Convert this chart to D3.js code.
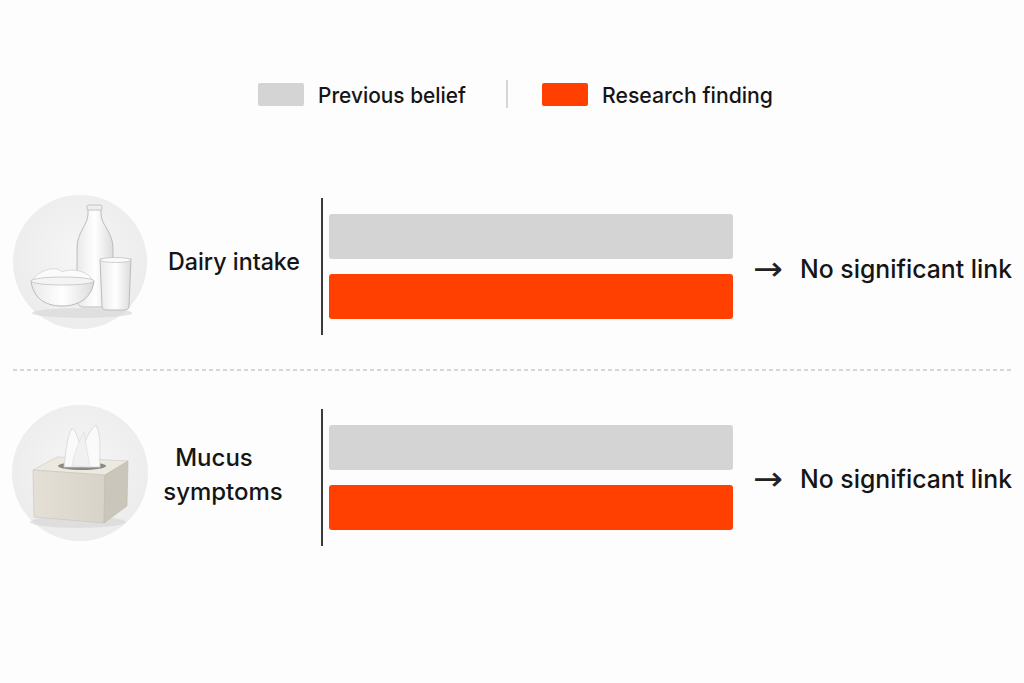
<!DOCTYPE html>
<html><head><meta charset="utf-8">
<script src="https://cdn.jsdelivr.net/npm/d3@7"></script>
<style>body{margin:0;background:#fdfdfd;} svg{display:block;font-family:Inter,"Liberation Sans",Arial,sans-serif;}</style>
</head><body>
<svg id="c" width="1024" height="683"></svg>
<script>
const categories = ["Dairy intake", "Mucus symptoms"];
const series = ["Previous belief", "Research finding"];
const previousBelief = [100, 100];
const researchFinding = [100, 100];
const outcomes = ["No significant link", "No significant link"];
const colors = {"Previous belief": "#d4d4d4", "Research finding": "#ff4000"};

const svg = d3.select("#c");
svg.append("rect").attr("width",1024).attr("height",683).attr("fill","#fdfdfd");

const x = d3.scaleLinear().domain([0, 100]).range([329, 733]);
const yGroup = d3.scaleBand().domain(categories).range([198, 546]).paddingInner(0.35).paddingOuter(0);
const ySeries = d3.scaleBand().domain(series).paddingInner(0.25).paddingOuter(0.267);

// legend
const leg = svg.append("g");
const legPos = [{s:"Previous belief", x:258, w:148}, {s:"Research finding", x:542, w:171}];
legPos.forEach(d=>{
  leg.append("rect").attr("x",d.x).attr("y",83).attr("width",46).attr("height",23).attr("rx",2).attr("fill",colors[d.s]);
  leg.append("text").attr("x",d.x+60).attr("y",102.5).attr("font-size",22).attr("font-weight",500).attr("fill","#151515")
    .attr("textLength",d.w).attr("lengthAdjust","spacingAndGlyphs").text(d.s);
});
leg.append("line").attr("x1",507).attr("x2",507).attr("y1",80).attr("y2",108).attr("stroke","#c8c8c8").attr("stroke-width",1.5);

// separator
svg.append("line").attr("x1",13).attr("x2",1012).attr("y1",370).attr("y2",370)
  .attr("stroke","#c9c9c9").attr("stroke-width",1.5).attr("stroke-dasharray","4,3");

const rows = categories.map((c,i)=>({cat:c, vals:[previousBelief[i], researchFinding[i]], out:outcomes[i]}));

rows.forEach((r,i)=>{
  const g = svg.append("g");
  const y0 = yGroup(r.cat), bh = yGroup.bandwidth();
  ySeries.range([y0, y0+bh]);
  const axis = d3.axisLeft(ySeries).tickSize(0).tickFormat("");
  const ax = g.append("g").attr("transform","translate(322,0)").call(axis);
  ax.select(".domain").attr("stroke","#3a3a3a").attr("stroke-width",2).attr("d",`M0,${y0}V${y0+bh}`);
  g.selectAll("rect.bar").data(series.map((s,j)=>({s, v:r.vals[j]}))).join("rect")
    .attr("class","bar")
    .attr("x", x(0)).attr("y", d=>ySeries(d.s))
    .attr("width", d=>x(d.v)-x(0)).attr("height", ySeries.bandwidth())
    .attr("rx",3).attr("fill", d=>colors[d.s]);
  const cy = y0 + bh/2 + 2;
  g.append("text").attr("x",753).attr("y",cy+11).attr("font-size",33).attr("font-family","'DejaVu Sans'").attr("fill","#222")
    .attr("textLength",30).attr("lengthAdjust","spacingAndGlyphs").text("→");
  g.append("text").attr("x",800).attr("y",cy+9).attr("font-size",25.5).attr("font-weight",500).attr("fill","#151515")
    .attr("textLength",212).attr("lengthAdjust","spacingAndGlyphs").text(r.out);
});

// labels
svg.append("text").attr("x",300).attr("y",270).attr("text-anchor","end").attr("font-size",24).attr("font-weight",500).attr("fill","#151515")
  .attr("textLength",132).attr("lengthAdjust","spacingAndGlyphs").text("Dairy intake");
const ml = svg.append("text").attr("font-size",24).attr("font-weight",500).attr("fill","#151515").attr("text-anchor","middle");
ml.append("tspan").attr("x",214).attr("y",466).text("Mucus");
ml.append("tspan").attr("x",223).attr("y",500).text("symptoms");

// icons
const defs = svg.append("defs");
const rg = defs.append("radialGradient").attr("id","bgc").attr("cx","50%").attr("cy","45%").attr("r","55%");
rg.append("stop").attr("offset","0%").attr("stop-color","#f6f6f6");
rg.append("stop").attr("offset","100%").attr("stop-color","#ececec");
const milk = defs.append("linearGradient").attr("id","milk").attr("x1","0").attr("x2","1");
milk.append("stop").attr("offset","0").attr("stop-color","#e9e9ea");
milk.append("stop").attr("offset","0.5").attr("stop-color","#ffffff");
milk.append("stop").attr("offset","1").attr("stop-color","#dcdcde");
const box = defs.append("linearGradient").attr("id","box").attr("x1","0").attr("x2","1");
box.append("stop").attr("offset","0").attr("stop-color","#e4e0d6");
box.append("stop").attr("offset","1").attr("stop-color","#d8d3c8");

// dairy icon
svg.append("circle").attr("cx",80).attr("cy",262).attr("r",67).attr("fill","url(#bgc)");
const di = svg.append("g");
di.append("ellipse").attr("cx",82).attr("cy",313).attr("rx",50).attr("ry",5).attr("fill","#d8d8d8").attr("opacity",0.7);
di.append("path").attr("d","M88,207 L101,207 L101,214 C101,225 113,232 113,248 L113,300 C113,305 110,307 106,307 L84,307 C80,307 77,305 77,300 L77,248 C77,232 88,225 88,214 Z")
  .attr("fill","url(#milk)").attr("stroke","#bdbdbd").attr("stroke-width",1);
di.append("rect").attr("x",87).attr("y",205).attr("width",15).attr("height",5).attr("rx",1.5).attr("fill","#eeeeee").attr("stroke","#b8b8b8").attr("stroke-width",0.8);
di.append("path").attr("d","M100,259 L131,259 L129,306 C129,309 127,310 124,310 L107,310 C104,310 102,309 102,306 Z")
  .attr("fill","url(#milk)").attr("stroke","#bcbcbc").attr("stroke-width",1);
di.append("ellipse").attr("cx",115.5).attr("cy",260).attr("rx",15.5).attr("ry",2.5).attr("fill","#fafafa").attr("stroke","#c4c4c4").attr("stroke-width",0.8);
di.append("path").attr("d","M32,281 C40,268 58,266 62,272 C70,268 88,270 93,281 Z").attr("fill","#fbfbfb").attr("stroke","#d0d0d0").attr("stroke-width",0.8);
di.append("path").attr("d","M31,281 L94,281 C92,297 80,306 62,306 C44,306 33,297 31,281 Z")
  .attr("fill","url(#milk)").attr("stroke","#b9b9b9").attr("stroke-width",1);
di.append("ellipse").attr("cx",62.5).attr("cy",281).attr("rx",31.5).attr("ry",4).attr("fill","#f4f4f4").attr("stroke","#c0c0c0").attr("stroke-width",0.8);

// tissue icon
svg.append("circle").attr("cx",80).attr("cy",473).attr("r",68).attr("fill","url(#bgc)");
const ti = svg.append("g");
ti.append("ellipse").attr("cx",78).attr("cy",522).attr("rx",48).attr("ry",6).attr("fill","#d4d4d4").attr("opacity",0.6);
ti.append("path").attr("d","M33,470 L57,457 L128,461 L105,475 Z").attr("fill","#ece9e1").attr("stroke","#cfcac0").attr("stroke-width",0.6);
ti.append("path").attr("d","M33,470 L105,475 L104,523 L34,517 Z").attr("fill","url(#box)").attr("stroke","#c8c3b8").attr("stroke-width",0.6);
ti.append("path").attr("d","M105,475 L128,461 L127,506 L104,523 Z").attr("fill","#cbc6bb").attr("stroke","#bfb9ad").attr("stroke-width",0.6);
ti.append("ellipse").attr("cx",82).attr("cy",466).attr("rx",24).attr("ry",4).attr("fill","#8d8a84");
ti.append("path").attr("d","M64,467 C66,452 66,440 72,428 C78,433 80,445 82,455 C84,442 88,432 96,425 C102,436 99,452 100,467 Z")
  .attr("fill","#fafafa").attr("stroke","#d6d6d6").attr("stroke-width",0.8);
ti.append("path").attr("d","M72,466 C74,452 80,440 84,432 C86,444 88,456 90,467 Z").attr("fill","#f1f1f1").attr("stroke","#dcdcdc").attr("stroke-width",0.6);
</script>
</body></html>
